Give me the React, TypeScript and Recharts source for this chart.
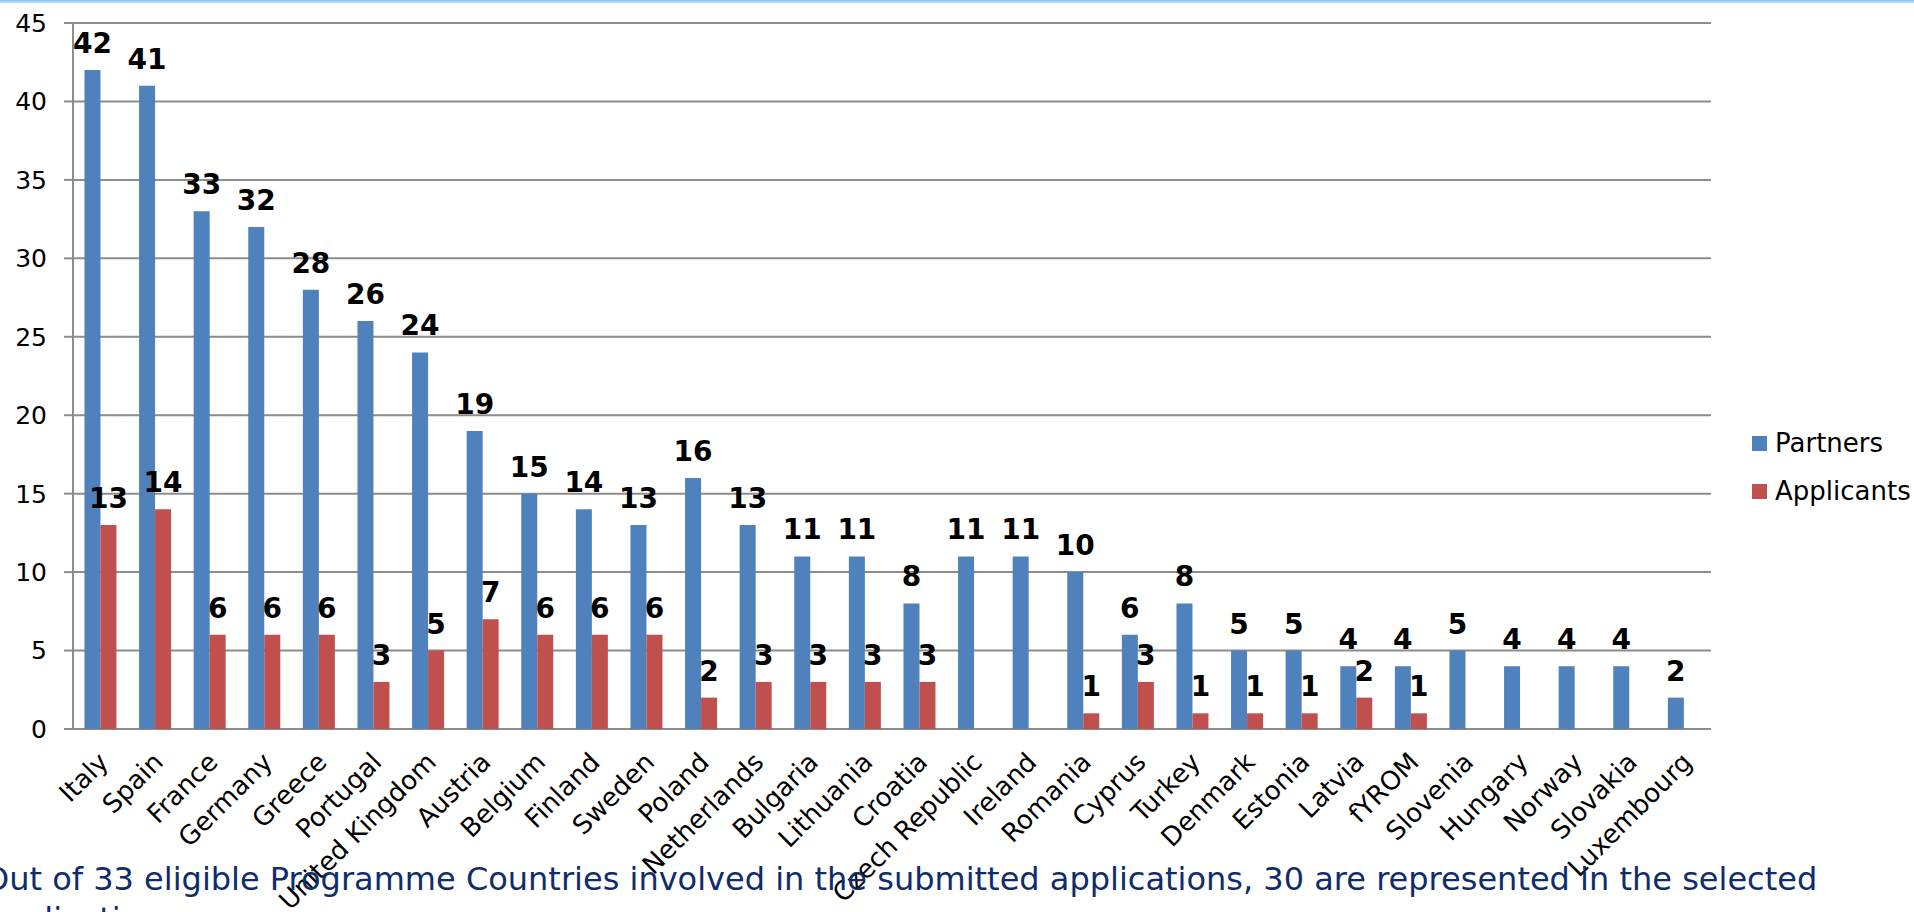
import React from 'react';
import { BarChart, Bar, XAxis, YAxis, CartesianGrid, LabelList } from 'recharts';

const countries = [
  'Italy', 'Spain', 'France', 'Germany', 'Greece', 'Portugal', 'United Kingdom', 'Austria',
  'Belgium', 'Finland', 'Sweden', 'Poland', 'Netherlands', 'Bulgaria', 'Lithuania', 'Croatia',
  'Czech Republic', 'Ireland', 'Romania', 'Cyprus', 'Turkey', 'Denmark', 'Estonia', 'Latvia',
  'fYROM', 'Slovenia', 'Hungary', 'Norway', 'Slovakia', 'Luxembourg',
];
const partners = [42, 41, 33, 32, 28, 26, 24, 19, 15, 14, 13, 16, 13, 11, 11, 8, 11, 11, 10, 6, 8, 5, 5, 4, 4, 5, 4, 4, 4, 2];
const applicants: (number | null)[] = [13, 14, 6, 6, 6, 3, 5, 7, 6, 6, 6, 2, 3, 3, 3, 3, null, null, 1, 3, 1, 1, 1, 2, 1, null, null, null, null, null];
const yTicks = [0, 5, 10, 15, 20, 25, 30, 35, 40, 45];
const seriesNames = ['Partners', 'Applicants'];
const seriesColors = ['#4f81bd', '#c0504d'];
const footnote = 'Out of 33 eligible Programme Countries involved in the submitted applications, 30 are represented in the selected applications';

const data = countries.map((name, i) => ({ name, partners: partners[i], applicants: applicants[i] }));
const boundaryTicks = countries.map((_, i) => i).concat([countries.length]);

const FONT = '"DejaVu Sans", Verdana, sans-serif';

const CategoryTick = (props: any) => {
  const { x, y, payload } = props;
  const ax = x - 5;
  const ay = y + 20;
  return (
    <text
      x={ax}
      y={ay}
      transform={`rotate(-45 ${ax} ${ay})`}
      textAnchor="end"
      dy="0.8em"
      fontSize={26}
      fontFamily={FONT}
      fill="#000"
    >
      {payload.value}
    </text>
  );
};

const fmt = (v: any) => (v === null || v === undefined || v === 0 ? '' : v);

export default function App() {
  return (
    <div style={{ position: 'absolute', left: 0, top: 0, width: 1914, height: 912, overflow: 'hidden', background: '#fff', fontFamily: FONT }}>
      <div style={{ position: 'absolute', left: 0, top: 0, width: 1914, height: 3, background: 'linear-gradient(#7fc0ee, #c4e4f8)' }} />
      <BarChart
        width={1914}
        height={912}
        data={data}
        margin={{ top: 23, right: 203, bottom: 0, left: 0 }}
        barCategoryGap="21%"
        barGap={0}
      >
        <CartesianGrid xAxisId="cat" vertical={false} stroke="#8c8c8c" strokeWidth={2} />
        <XAxis
          xAxisId="bounds"
          type="number"
          domain={[0, countries.length]}
          ticks={boundaryTicks}
          allowDataOverflow
          tick={false}
          tickSize={8}
          height={0}
          axisLine={{ stroke: '#8c8c8c', strokeWidth: 2 }}
          tickLine={{ stroke: '#8c8c8c', strokeWidth: 2 }}
        />
        <XAxis
          xAxisId="cat"
          dataKey="name"
          type="category"
          interval={0}
          axisLine={false}
          tickLine={false}
          tickSize={0}
          tickMargin={0}
          height={183}
          tick={<CategoryTick />}
        />
        <YAxis
          domain={[0, 45]}
          ticks={yTicks}
          width={73}
          tickSize={9}
          tickMargin={17}
          axisLine={{ stroke: '#8c8c8c', strokeWidth: 2 }}
          tickLine={{ stroke: '#8c8c8c', strokeWidth: 2 }}
          tick={{ fontSize: 25, fill: '#000', fontFamily: FONT }}
        />
        <Bar xAxisId="cat" dataKey="partners" name={seriesNames[0]} fill={seriesColors[0]} isAnimationActive={false}>
          <LabelList dataKey="partners" position="top" offset={17} formatter={fmt}
            style={{ fontSize: 28, fontWeight: 'bold', fill: '#000', fontFamily: FONT }} />
        </Bar>
        <Bar xAxisId="cat" dataKey="applicants" name={seriesNames[1]} fill={seriesColors[1]} isAnimationActive={false}>
          <LabelList dataKey="applicants" position="top" offset={17} formatter={fmt}
            style={{ fontSize: 28, fontWeight: 'bold', fill: '#000', fontFamily: FONT }} />
        </Bar>
      </BarChart>
      <div style={{ position: 'absolute', left: 1752, top: 428 }}>
        {seriesNames.map((n, i) => (
          <div key={n} style={{ display: 'flex', alignItems: 'center', height: 30, marginBottom: 18 }}>
            <div style={{ width: 15, height: 15, background: seriesColors[i], marginRight: 8 }} />
            <span style={{ fontSize: 26, color: '#000', fontFamily: FONT, lineHeight: '30px' }}>{n}</span>
          </div>
        ))}
      </div>
      <div style={{ position: 'absolute', left: -16, top: 859, width: 1900, fontSize: 32, lineHeight: '40px', color: '#0f2c6c', fontFamily: FONT }}>
        {footnote}
      </div>
    </div>
  );
}
